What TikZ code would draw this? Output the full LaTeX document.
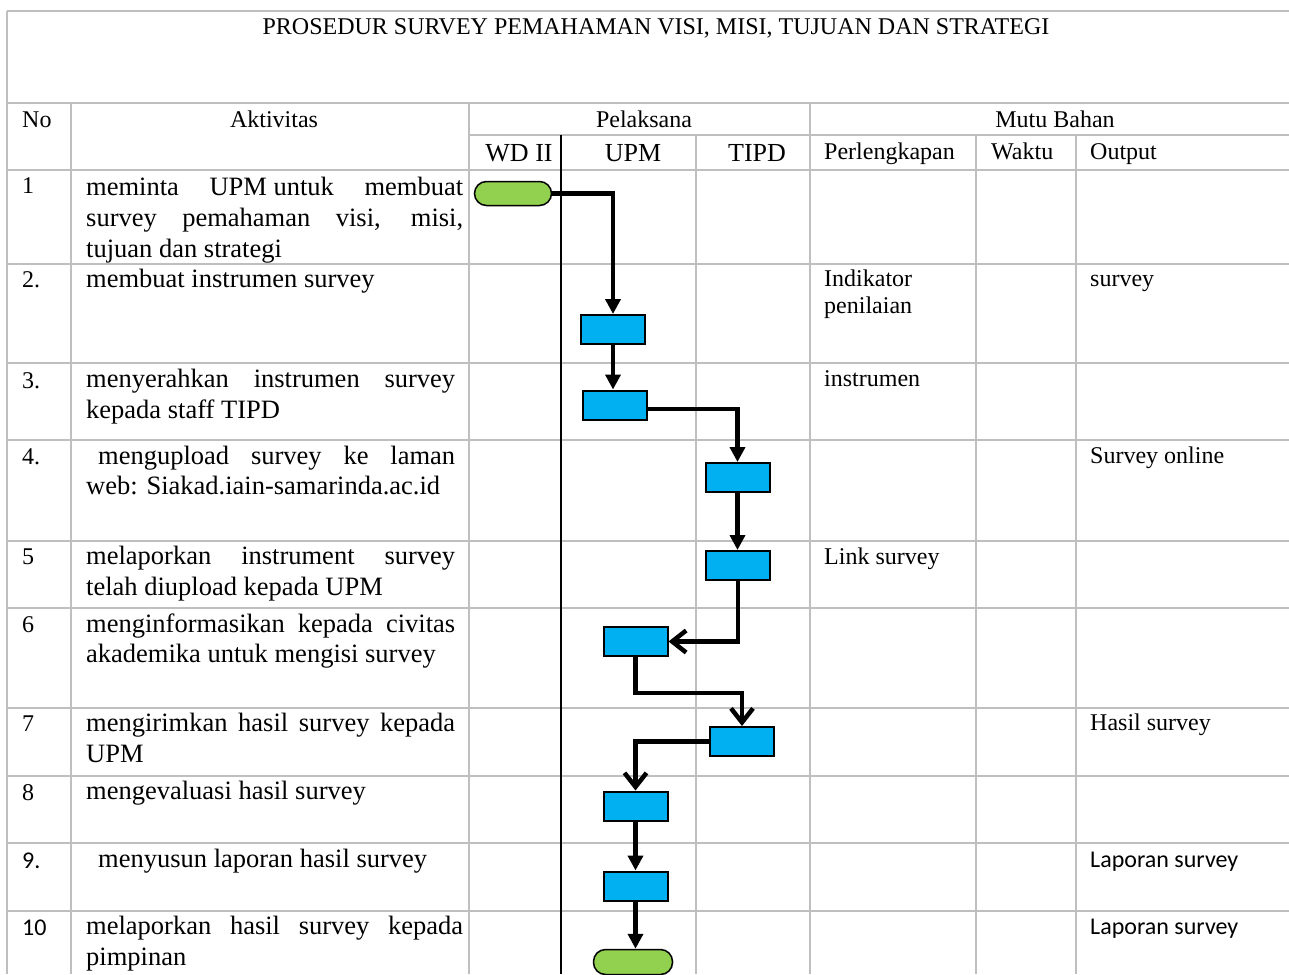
\documentclass[tikz,border=0pt]{standalone}
\usepackage{fontspec}
\setmainfont{Liberation Serif}
\newfontfamily\calibrifont{Carlito}
\usetikzlibrary{arrows.meta}
\definecolor{gridgray}{RGB}{191,191,191}
\definecolor{boxblue}{RGB}{0,176,240}
\definecolor{termgreen}{RGB}{146,208,80}
\begin{document}
\begin{tikzpicture}[x=1pt,y=-1pt,
 gridline/.style={draw=gridgray,line width=1.5pt},
 laneline/.style={draw=black,line width=1.2pt},
 txt/.style={inner sep=0pt,anchor=base west,font=\fontsize{24}{27}\selectfont},
 act/.style={inner sep=0pt,anchor=base west,font=\fontsize{26.5}{31}\selectfont},
 hdr/.style={inner sep=0pt,anchor=base,font=\fontsize{24}{27}\selectfont},
 lane/.style={inner sep=0pt,anchor=base,font=\fontsize{26}{30}\selectfont},
 cal/.style={inner sep=0pt,anchor=base west,font=\calibrifont\fontsize{24}{27}\selectfont},
 procbox/.style={draw=black,line width=2pt,fill=boxblue,minimum width=64pt,minimum height=29pt,inner sep=0pt},
 termbox/.style={draw=black,line width=1.5pt,fill=termgreen,rounded corners=12pt,minimum width=77pt,minimum height=24pt,inner sep=0pt},
 flow/.style={line width=4.5pt,-{Triangle[length=15pt,width=15pt]}},
 flowopen/.style={line width=4.5pt,-{Straight Barb[length=14pt,width=22pt]}},
]
\useasboundingbox[fill=white] (0,0) rectangle (1289,974);

% ---- grid ----
\foreach \yy in {11,103,170,264,363,440,541,608,708,776,843,911}
  \draw[gridline] (7,\yy) -- (1289,\yy);
\draw[gridline] (469,135) -- (1289,135);
\draw[gridline] (7,11) -- (7,974);
\foreach \xx in {71,469,810}
  \draw[gridline] (\xx,103) -- (\xx,974);
\foreach \xx in {696,976,1076}
  \draw[gridline] (\xx,135) -- (\xx,974);
\draw[laneline] (561,135) -- (561,974);

% ---- header ----
\node[hdr] (title) at (656,35) {PROSEDUR SURVEY PEMAHAMAN VISI, MISI, TUJUAN DAN STRATEGI};
\node[txt] (hno) at (22,127) {No};
\node[hdr] (hakt) at (274,127) {Aktivitas};
\node[hdr] (hpel) at (644,127) {Pelaksana};
\node[hdr] (hmutu) at (1055,127) {Mutu Bahan};
\node[lane] (hwd) at (519,161) {WD II};
\node[lane] (hupm) at (633,161) {UPM};
\node[lane] (htipd) at (757,161) {TIPD};
\node[txt] (hperl) at (824,159) {Perlengkapan};
\node[txt] (hwak) at (991,159) {Waktu};
\node[txt] (hout) at (1090,159) {Output};

% ---- numbers ----
\node[txt] (n1) at (22,193) {1};
\node[txt] (n2) at (22,287) {2.};
\node[txt] (n3) at (22,388) {3.};
\node[txt] (n4) at (22,464) {4.};
\node[txt] (n5) at (22,564) {5};
\node[txt] (n6) at (22,632) {6};
\node[txt] (n7) at (22,731) {7};
\node[txt] (n8) at (22,800) {8};
\node[cal] (n9) at (22,868) {9.};
\node[cal] (n10) at (22,935) {10};

% ---- activities ----
\node[act] (a1a) at (86,195) {\makebox[377pt][l]{meminta\hfill UPM untuk\hfill membuat}};
\node[act] (a1b) at (86,226) {\makebox[377pt][s]{survey pemahaman visi, misi,}};
\node[act] (a1c) at (86,257) {tujuan dan strategi};
\node[act] (a2) at (86,287) {membuat instrumen survey};
\node[act] (a3a) at (86,387) {\makebox[369pt][s]{menyerahkan instrumen survey}};
\node[act] (a3b) at (86,418) {kepada staff TIPD};
\node[act] (a4a) at (98,464) {\makebox[357pt][s]{mengupload survey ke laman}};
\node[act] (a4b) at (86,494) {web: Siakad.iain-samarinda.ac.id};
\node[act] (a5a) at (86,564) {\makebox[369pt][s]{melaporkan instrument survey}};
\node[act] (a5b) at (86,595) {telah diupload kepada UPM};
\node[act] (a6a) at (86,632) {\makebox[369pt][s]{menginformasikan kepada civitas}};
\node[act] (a6b) at (86,662) {akademika untuk mengisi survey};
\node[act] (a7a) at (86,731) {\makebox[369pt][s]{mengirimkan hasil survey kepada}};
\node[act] (a7b) at (86,762) {UPM};
\node[act] (a8) at (86,799) {mengevaluasi hasil survey};
\node[act] (a9) at (98,867) {menyusun laporan hasil survey};
\node[act] (a10a) at (86,934) {\makebox[377pt][s]{melaporkan hasil survey kepada}};
\node[act] (a10b) at (86,965) {pimpinan};

% ---- perlengkapan / output ----
\node[txt] (p2a) at (824,286) {Indikator};
\node[txt] (p2b) at (824,313) {penilaian};
\node[txt] (p3) at (824,386) {instrumen};
\node[txt] (p5) at (824,564) {Link survey};
\node[txt] (o2) at (1090,286) {survey};
\node[txt] (o4) at (1090,463) {Survey online};
\node[txt] (o7) at (1090,730) {Hasil survey};
\node[cal] (o9) at (1090,867) {Laporan survey};
\node[cal] (o10) at (1090,934) {Laporan survey};

% ---- flow shapes ----
\node[termbox] (t1) at (513,193.5) {};
\node[procbox] (b1) at (613,329.5) {};
\node[procbox] (b2) at (615,405) {};
\node[procbox] (b3) at (737.5,477.5) {};
\node[procbox] (b4) at (738,565.5) {};
\node[procbox] (b5) at (635.5,641.5) {};
\node[procbox] (b6) at (742,741.5) {};
\node[procbox] (b7) at (635.5,806) {};
\node[procbox] (b8) at (635.5,886) {};
\node[termbox,minimum width=79pt,minimum height=25pt] (t2) at (633,962) {};

% ---- connectors ----
\draw[flow] (t1.east) -| (b1.north);
\draw[flow] (b1.south) -- (b1.south |- b2.north);
\draw[flow] ([yshift=-4pt]b2.east) -| (b3.north);
\draw[flow] (b3.south) -- (b3.south |- b4.north);
\draw[flowopen] (b4.south) |- (b5.east);
\coordinate (m56) at (742,693);
\draw[flowopen] (b5.south) |- (m56) -- (b6.north);
\draw[flowopen] (b6.west) -| (b7.north);
\draw[flow] (b7.south) -- (b8.north);
\draw[flow] (b8.south) -- (b8.south |- t2.north);
\end{tikzpicture}
\end{document}
